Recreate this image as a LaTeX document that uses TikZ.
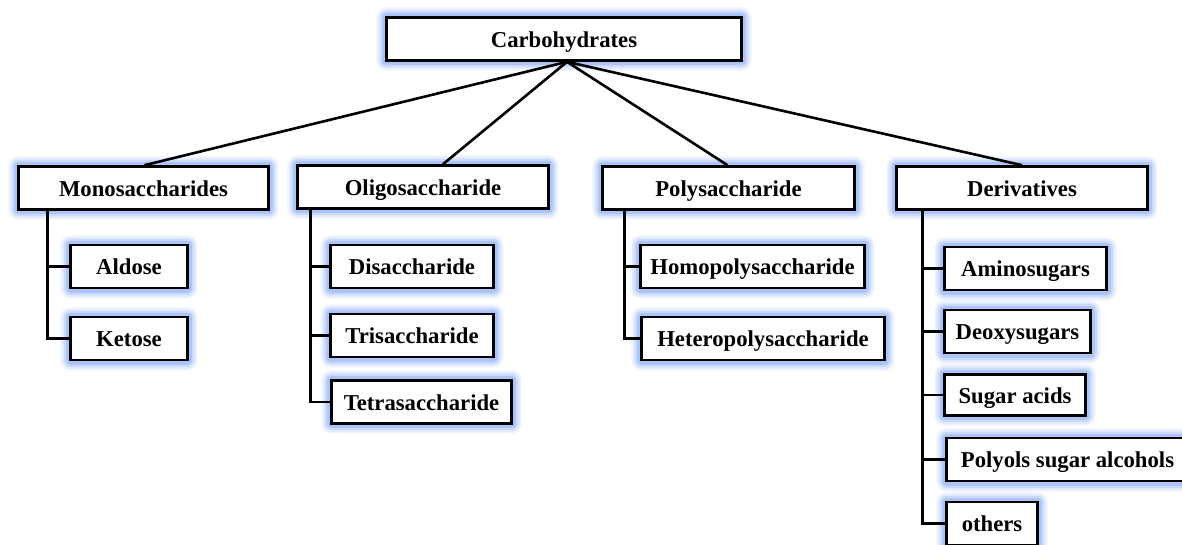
\documentclass[tikz,border=0pt]{standalone}
\usepackage{fontspec}
\setmainfont{Liberation Serif}
\definecolor{glowblue}{RGB}{100,145,240}
\tikzset{
  box/.style={draw=black, line width=2.6pt, fill=white, inner sep=0pt,
    minimum height=43pt, text height=16pt, text depth=0pt,
    font=\fontsize{22.7}{26}\selectfont\bfseries,
    preaction={draw=glowblue, line join=round, line width=21pt, opacity=0.08},
    preaction={draw=glowblue, line join=round, line width=17pt, opacity=0.12},
    preaction={draw=glowblue, line join=round, line width=13pt, opacity=0.18},
    preaction={draw=glowblue, line join=round, line width=9pt, opacity=0.3}},
  conn/.style={draw=black, line width=2.6pt}
}
\begin{document}
\begin{tikzpicture}[x=1pt,y=-1pt]
\useasboundingbox (0,0) rectangle (1182,544);
% level 0
\node[box, minimum width=355pt] (carb) at (564,39) {Carbohydrates};
% level 1
\node[box, minimum width=250pt] (mono) at (143.5,188) {Monosaccharides};
\node[box, minimum width=251pt] (oligo) at (423,187) {Oligosaccharide};
\node[box, minimum width=252pt] (poly) at (728.5,188) {Polysaccharide};
\node[box, minimum width=251pt] (deriv) at (1022,188) {Derivatives};
% level 2
\node[box, minimum width=117pt] (aldose) at (129,266.5) {Aldose};
\node[box, minimum width=117pt] (ketose) at (129,338.5) {Ketose};
\node[box, minimum width=163pt] (di) at (412,266.5) {Disaccharide};
\node[box, minimum width=163pt] (tri) at (412,335.5) {Trisaccharide};
\node[box, minimum width=180pt] (tetra) at (421.5,402) {Tetrasaccharide};
\node[box, minimum width=224pt] (homo) at (752.5,266.5) {Homopolysaccharide};
\node[box, minimum width=243pt] (hetero) at (763,338.5) {Heteropolysaccharide};
\node[box, minimum width=162pt] (amino) at (1025.5,268.5) {Aminosugars};
\node[box, minimum width=146pt] (deoxy) at (1017.5,331.5) {Deoxysugars};
\node[box, minimum width=141pt, minimum height=41pt] (acids) at (1015,395) {Sugar acids};
\node[box, minimum width=242pt] (polyols) at (1067.5,459.5) {Polyols sugar alcohols};
\node[box, minimum width=91pt] (others) at (992,523.5) {others};
% main connectors
\draw[conn] ([xshift=3pt]carb.south) -- ([xshift=1pt]mono.north);
\draw[conn] ([xshift=3pt]carb.south) -- ([xshift=20pt]oligo.north);
\draw[conn] ([xshift=3pt]carb.south) -- ([xshift=-1pt]poly.north);
\draw[conn] ([xshift=3pt]carb.south) -- (deriv.north);
% sub-trees
\draw[conn] ([xshift=30pt]mono.south west) |- (aldose.west);
\draw[conn] ([xshift=30pt]mono.south west) |- (ketose.west);
\draw[conn] ([xshift=14pt]oligo.south west) |- (di.west);
\draw[conn] ([xshift=14pt]oligo.south west) |- (tri.west);
\draw[conn] ([xshift=14pt]oligo.south west) |- (tetra.west);
\draw[conn] ([xshift=23pt]poly.south west) |- (homo.west);
\draw[conn] ([xshift=23pt]poly.south west) |- (hetero.west);
\draw[conn] ([xshift=27pt]deriv.south west) |- (amino.west);
\draw[conn] ([xshift=27pt]deriv.south west) |- (deoxy.west);
\draw[conn] ([xshift=27pt]deriv.south west) |- (acids.west);
\draw[conn] ([xshift=27pt]deriv.south west) |- (polyols.west);
\draw[conn] ([xshift=27pt]deriv.south west) |- (others.west);
\end{tikzpicture}
\end{document}
